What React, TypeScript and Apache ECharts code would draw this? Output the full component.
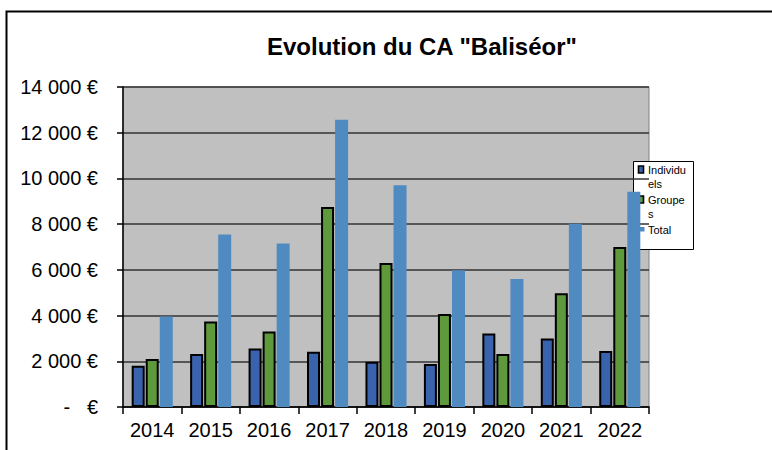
import React, { useEffect, useRef } from "react";
import * as echarts from "echarts";

const years = ["2014", "2015", "2016", "2017", "2018", "2019", "2020", "2021", "2022"];
const individuels = [1800, 2320, 2560, 2420, 1980, 1880, 3220, 3000, 2450];
const groupes = [2100, 3740, 3300, 8750, 6300, 4070, 2320, 4980, 7000];
const total = [3960, 7550, 7150, 12570, 9700, 5980, 5600, 8020, 9420];
const seriesNames = ["Individuels", "Groupes", "Total"];
const legendLabels = ["Individu\nels", "Groupe\ns", "Total"];
const seriesColors = ["#3a63ad", "#5e9a3c", "#4f8bc0"];
const titleText = 'Evolution du CA "Baliséor"';

const FONT = '"Liberation Sans", Arial, sans-serif';

function fmtEuro(v: number): string {
  if (v === 0) return "-   €";
  const th = Math.floor(v / 1000);
  const rest = String(v % 1000).padStart(3, "0");
  return `${th} ${rest} €`;
}

export default function App() {
  const ref = useRef<HTMLDivElement>(null);
  useEffect(() => {
    if (!ref.current) return;
    const chart = echarts.init(ref.current, undefined, { renderer: "svg" });
    const barBorder = { borderColor: "#000000", borderWidth: 2 };

    // legend drawn as graphic elements (Excel-style wrapped labels)
    const legendX = 633.5;
    const legendY = 161.5;
    const rowTops = [162.5, 192.5, 222.5];
    const legendChildren: any[] = [
      {
        type: "rect",
        shape: { x: legendX, y: legendY, width: 60, height: 88 },
        style: { fill: "#ffffff", stroke: "#000000", lineWidth: 1 },
      },
    ];
    seriesNames.forEach((_, i) => {
      const cy = rowTops[i] + 7;
      if (i < 2) {
        legendChildren.push({
          type: "rect",
          shape: { x: 638.5, y: cy - 3.5, width: 5, height: 7 },
          style: { fill: seriesColors[i], stroke: "#000000", lineWidth: 1.6 },
        });
      } else {
        legendChildren.push({
          type: "rect",
          shape: { x: 640, y: cy - 2.5, width: 4.5, height: 4.5 },
          style: { fill: seriesColors[i] },
        });
      }
      legendChildren.push({
        type: "text",
        x: 648,
        y: rowTops[i],
        style: {
          text: legendLabels[i],
          fontFamily: FONT,
          fontSize: 11,
          lineHeight: 14,
          fill: "#000000",
          align: "left",
          verticalAlign: "top",
        },
      });
    });

    chart.setOption({
      animation: false,
      backgroundColor: "#ffffff",
      title: {
        text: titleText,
        left: 267,
        top: 34,
        padding: 0,
        textStyle: { fontFamily: FONT, fontSize: 24, fontWeight: "bold", color: "#000000" },
      },
      grid: {
        left: 123,
        right: 123,
        top: 87,
        bottom: 43,
        show: true,
        backgroundColor: "#c0c0c0",
        borderColor: "#808080",
        borderWidth: 1,
      },
      xAxis: {
        type: "category",
        data: years,
        axisLine: { lineStyle: { color: "#000000", width: 1.5 } },
        axisTick: { show: true, length: 7, lineStyle: { color: "#000000", width: 1.5 } },
        axisLabel: { fontFamily: FONT, fontSize: 20, color: "#000000", margin: 13 },
      },
      yAxis: {
        type: "value",
        min: 0,
        max: 14000,
        interval: 2000,
        axisLine: { show: true, lineStyle: { color: "#000000", width: 1.5 } },
        axisTick: { show: true, length: 6, lineStyle: { color: "#000000", width: 1.5 } },
        axisLabel: { fontFamily: FONT, fontSize: 20, color: "#000000", margin: 25, formatter: fmtEuro },
        splitLine: { show: true, lineStyle: { color: "#333333", width: 1.5 } },
      },
      series: [
        {
          name: seriesNames[0],
          type: "bar",
          data: individuels,
          barWidth: 13,
          barGap: "0%",
          itemStyle: { color: seriesColors[0], ...barBorder },
        },
        {
          name: seriesNames[1],
          type: "bar",
          data: groupes,
          barWidth: 13,
          barGap: "0%",
          itemStyle: { color: seriesColors[1], ...barBorder },
        },
        {
          name: seriesNames[2],
          type: "bar",
          data: total,
          barWidth: 13,
          barGap: "8%",
          itemStyle: { color: seriesColors[2] },
        },
      ],
      graphic: [
        {
          type: "polyline",
          z: 5,
          shape: { points: [[6.5, 450], [6.5, 11.5], [772, 11.5]] },
          style: { stroke: "#000000", lineWidth: 2, fill: "none" },
        },
        {
          type: "group",
          z: 5,
          children: legendChildren,
        },
      ],
    });
    return () => chart.dispose();
  }, []);
  return (
    <div
      ref={ref}
      style={{ position: "fixed", left: 0, top: 0, width: 772, height: 450 }}
    />
  );
}
